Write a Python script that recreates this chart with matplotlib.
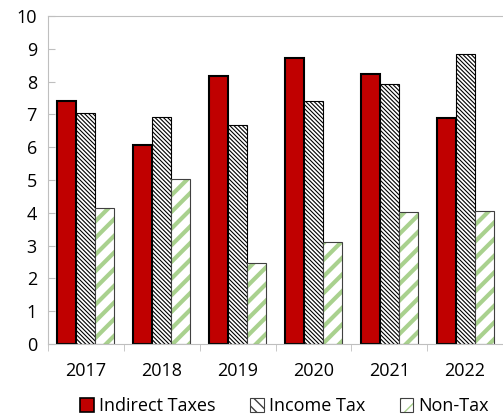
import numpy as np
import matplotlib.pyplot as plt
from matplotlib.patches import Patch
from matplotlib.legend_handler import HandlerTuple

plt.rcParams['font.family'] = ['Open Sans', 'DejaVu Sans']

years = ["2017", "2018", "2019", "2020", "2021", "2022"]
indirect = [7.4, 6.07, 8.17, 8.72, 8.22, 6.9]
income = [7.05, 6.92, 6.67, 7.4, 7.93, 8.85]
nontax = [4.15, 5.03, 2.47, 3.12, 4.02, 4.07]

green = "#A9D18E"
x = np.arange(len(years))
w = 0.25

fig = plt.figure(figsize=(5.03, 4.19), dpi=100)
ax = fig.add_axes([48 / 503, 75 / 419, 455 / 503, 328 / 419])

ax.bar(x - w, indirect, w, color="#C00000", edgecolor="black", linewidth=1.5)
b2 = ax.bar(x, income, w, color="white", edgecolor="black", hatch="\\" * 8,
            linewidth=0.8)
for p in b2:
    p.set_hatch_linewidth(0.8)
b3 = ax.bar(x + w, nontax, w, color="white", edgecolor=green, hatch="//",
            linewidth=0)
for p in b3:
    p.set_hatch_linewidth(3.0)
ax.bar(x + w, nontax, w, color="none", edgecolor="#404040", linewidth=0.8)

ax.set_xlim(-0.5, len(years) - 0.5)
ax.set_ylim(0, 10)
ax.set_yticks(range(0, 11))
ax.set_xticks(x)
ax.set_xticklabels(years)
ax.set_xticks(np.arange(-0.5, len(years)), minor=True)
ax.tick_params(axis="x", which="major", length=0, labelsize=13, pad=13)
ax.tick_params(axis="x", which="minor", length=5, color="#BFBFBF", direction="out")
ax.tick_params(axis="y", length=5, color="#BFBFBF", direction="in", labelsize=13, pad=8)

for s in ["left", "top", "bottom"]:
    ax.spines[s].set_color("#BFBFBF")
ax.spines["right"].set_visible(False)

h1 = Patch(facecolor="#C00000", edgecolor="black", linewidth=1.2)
h2 = Patch(facecolor="white", edgecolor="#404040", hatch="\\\\\\", linewidth=0.8)
h3a = Patch(facecolor="white", edgecolor=green, hatch="//", linewidth=0)
h3b = Patch(facecolor="none", edgecolor="#404040", linewidth=0.8)
h3a.set_hatch_linewidth(3.0)
ax.legend([h1, h2, (h3a, h3b)], ["Indirect Taxes", "Income Tax", "Non-Tax"],
          handler_map={tuple: HandlerTuple(ndivide=1, pad=0)},
          loc="center", bbox_to_anchor=(0.52, -0.19), ncol=3, frameon=False,
          fontsize=13, handlelength=0.75, handleheight=0.75, handletextpad=0.3,
          columnspacing=1.9, borderaxespad=0)

fig.savefig("out.png", dpi=100)
